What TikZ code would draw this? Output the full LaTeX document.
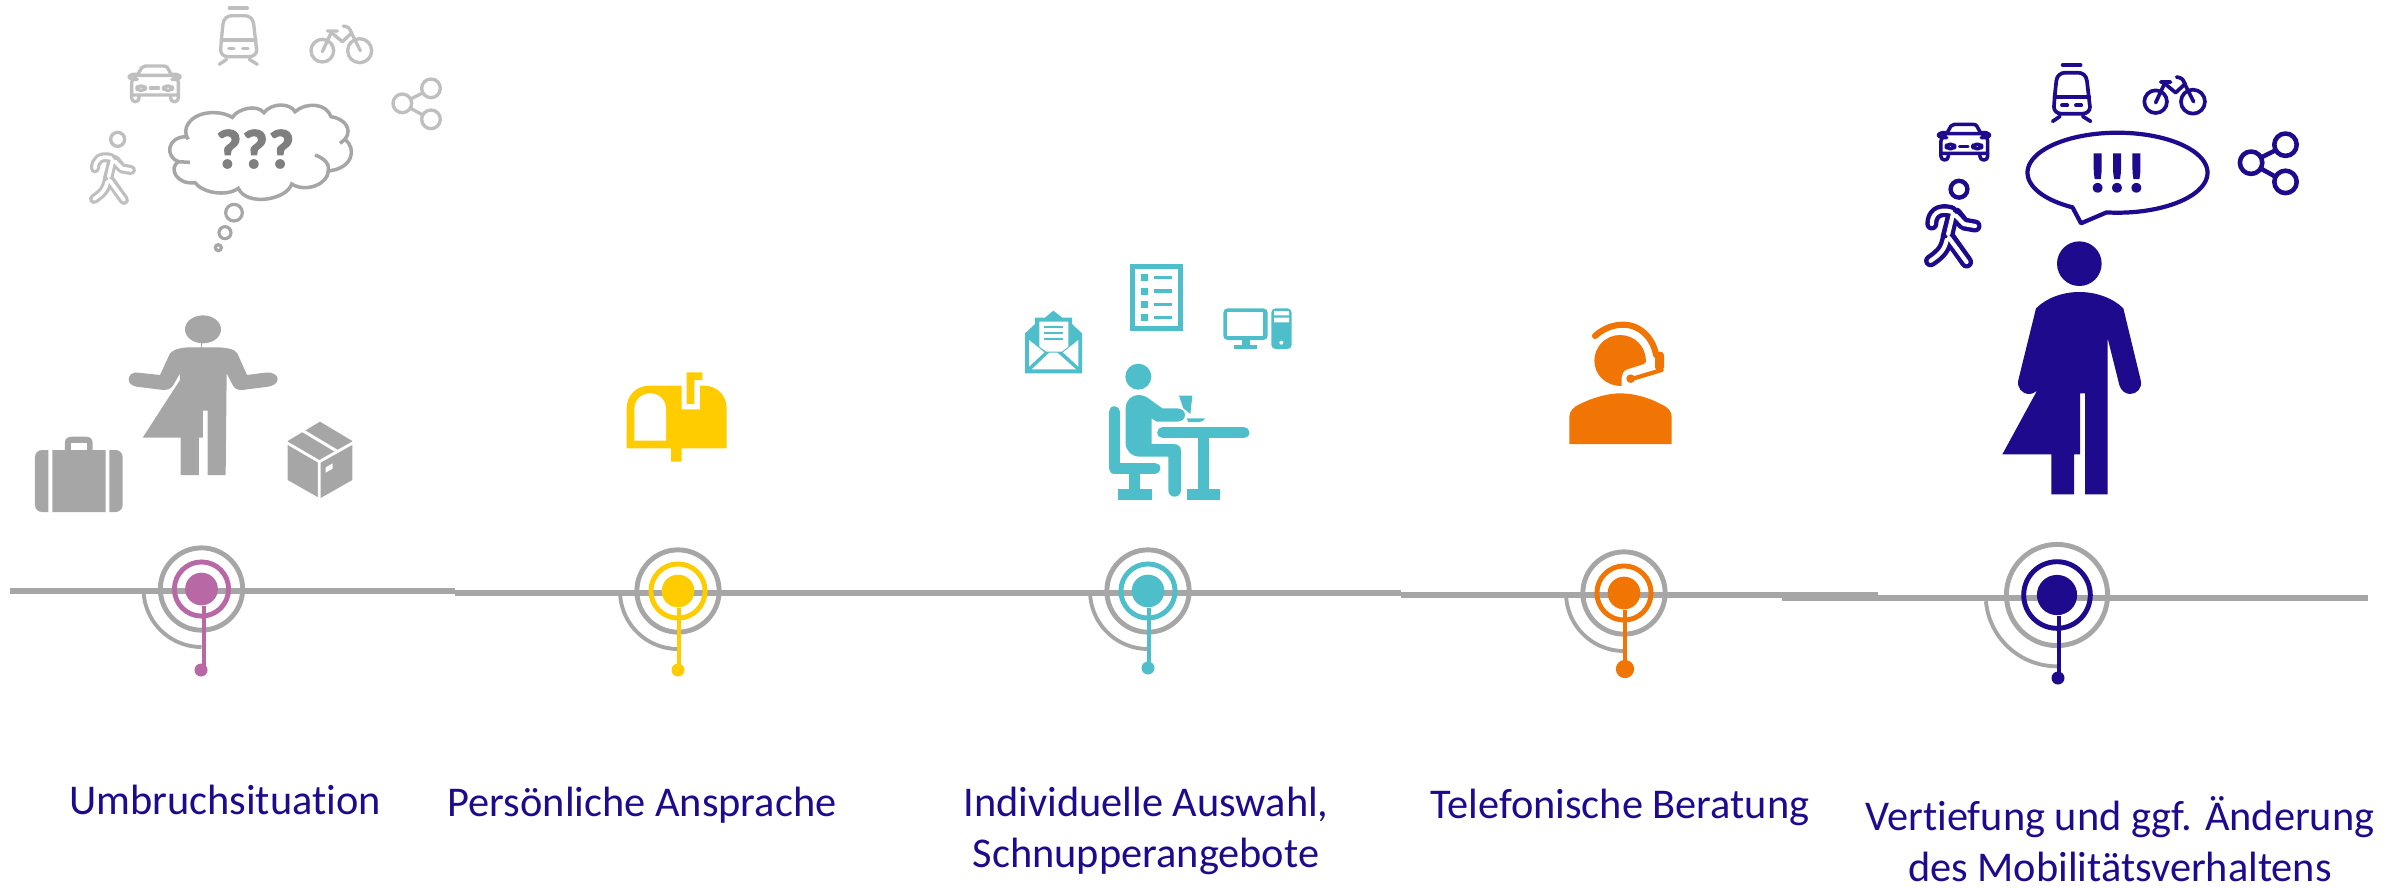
\documentclass[tikz,border=0pt]{standalone}
\usepackage{fontspec}
\setmainfont{Carlito}[Ligatures=NoCommon]
\newfontface\heavy{Carlito Bold}[FakeBold=3]
\usetikzlibrary{calc}
\definecolor{tgray}{HTML}{A6A6A6}
\definecolor{lgray}{HTML}{BFBFBF}
\definecolor{qgray}{HTML}{7F7F7F}
\definecolor{tblue}{HTML}{1E0A8C}
\definecolor{tpink}{HTML}{B968A6}
\definecolor{tyellow}{HTML}{FFCC00}
\definecolor{tteal}{HTML}{4EBFCA}
\definecolor{torange}{HTML}{F07504}
\tikzset{
  ico/.style={line cap=round,line join=round,fill=none},
  label/.style={text=tblue,font=\fontsize{12.05}{14.5}\selectfont,align=center,inner sep=0pt},
  tline/.style={draw=tgray,line width=1.6pt},
}
% line icons, coordinates in zoom units
\newcommand{\icontram}{%
  \draw[ico] (688,24)--(742,24);
  \draw[ico] (664,120) -- (669,72) .. controls (671,55) and (682,47) .. (697,47) -- (733,47) .. controls (748,47) and (759,55) .. (761,72) -- (770,150) .. controls (770,162) and (760,170) .. (748,170) -- (684,170) .. controls (672,170) and (662,162) .. (662,150) -- cycle;
  \draw[ico] (664,120)--(768,120);
  \draw[ico] (686,145)--(702,145) (728,145)--(744,145);
  \draw[ico] (680,178)--(658,193) (748,178)--(772,193);
}
\newcommand{\iconcar}{%
  \draw[ico] (412,226) -- (425,203) .. controls (428,199) and (432,198) .. (436,198) -- (490,198) .. controls (497,198) and (500,199) .. (503,204) -- (515,226);
  \draw[ico] (412,226) -- (515,226) .. controls (528,230) and (535,238) .. (535,248) -- (535,285) -- (395,285) -- (395,248) .. controls (395,238) and (402,230) .. (412,226);
  \draw[ico,rounded corners=1pt] (412,238) -- (388,238) -- (388,223) -- (410,223) (516,223) -- (540,223) -- (540,238) -- (516,238);
  \draw[ico,rounded corners=1pt] (395,285) -- (395,305) -- (417,305) -- (417,287) (512,287) -- (512,305) -- (535,305) -- (535,285);
  \draw[ico,rounded corners=1pt] (411,258) rectangle (436,271) (491,258) rectangle (517,271);
  \draw[ico] (451,264)--(476,264);
}
\newcommand{\iconbike}{%
  \draw[ico] (967,152) circle [radius=34] (1079,152) circle [radius=36];
  \draw[ico] (967,155) -- (995,95) (982,93) -- (1012,93);
  \draw[ico] (997,100) -- (1027,125) -- (1056,98);
  \draw[ico] (1030,78) .. controls (1045,80) and (1050,85) .. (1054,98) -- (1081,152);
}
\newcommand{\iconshare}{%
  \draw[ico] (1293,265) circle [radius=28] (1207,310) circle [radius=28] (1293,358) circle [radius=28];
  \draw[ico] (1232,297)--(1268,279) (1232,325)--(1268,345);
}
\newcommand{\iconwalk}[4]{% colour, outer width, inner width, head stroke
  \draw[#1,line width=#2,line cap=round,line join=round]
    (333,474) .. controls (300,465) and (285,482) .. (285,505)
    (345,480) -- (365,505) -- (393,510)
    (338,480) -- (324,535)
    (324,535) .. controls (320,565) and (310,578) .. (282,597)
    (326,535) -- (372,600);
  \draw[white,line width=#3,line cap=round,line join=round]
    (333,474) .. controls (300,465) and (285,482) .. (285,505)
    (345,484) -- (365,505) -- (393,510)
    (338,480) -- (326,530)
    (322,545) .. controls (318,565) and (310,578) .. (282,597)
    (328,540) -- (372,600);
  \draw[#1,line width=#4] (353,418) circle [radius=21];
}
\begin{document}
\begin{tikzpicture}[x=0.01cm,y=-0.01cm]
\useasboundingbox (0,0) rectangle (2405,887);
% timeline
\coordinate (t0) at (10,591); \coordinate (t1) at (455,591);
\coordinate (t2) at (455,593); \coordinate (t3) at (931,593);
\coordinate (t4) at (931,593); \coordinate (t5) at (1401,593);
\coordinate (t6) at (1401,595); \coordinate (t7) at (1878,595);
\coordinate (t8) at (1782,598); \coordinate (t9) at (2368,598);
\draw[tline] (t0)--(t1); \draw[tline] (t2)--(t3); \draw[tline] (t4)--(t5);
\draw[tline] (t6)--(t7); \draw[tline] (t8)--(t9);
% milestones: id, cx, cy, colour, scale, lead x, end x, end y, end size
\newcommand{\milestone}[9]{%
  \draw[tgray,line width=1.1pt] plot[domain=90:175,samples=30] ({#2+58*#5*cos(\x)},{#3+58*#5*sin(\x)});
  \node[circle,draw=tgray,line width=1.4pt,minimum size=23.4pt*#5,inner sep=0pt] (o#1) at (#2,#3) {};
  \node[circle,draw=#4,line width=1.4pt,minimum size=15.4pt*#5,inner sep=0pt] (r#1) at (#2,#3) {};
  \node[circle,fill=#4,minimum size=9.3pt*#5,inner sep=0pt] (d#1) at (#2,#3) {};
  \node[circle,fill=#4,minimum size=#9,inner sep=0pt] (e#1) at (#7,#8) {};
  \coordinate (l#1) at (#6,#8);
  \draw[#4,line width=1.2pt] (l#1|-d#1.south) -- (l#1);
}
\milestone{1}{201.5}{589}{tpink}{1}{204}{201}{670}{3.7pt}
\milestone{2}{678}{591}{tyellow}{1}{679}{678}{670}{3.7pt}
\milestone{3}{1148}{591}{tteal}{1}{1149}{1148}{668}{3.7pt}
\milestone{4}{1624}{593}{torange}{1}{1625}{1625}{669}{5.2pt}
\milestone{5}{2057}{595}{tblue}{1.23}{2059}{2058}{678}{3.7pt}
% grey transport icons
\begin{scope}[scale=1/3,draw=lgray,line width=0.95pt]
  \icontram \iconcar \iconbike \iconshare
  \iconwalk{lgray}{2.85pt}{1.05pt}{0.95pt}
  % thought cloud
  \draw[tgray,line width=1pt,line join=miter,fill=white]
    (560,410) .. controls (545,370) and (590,335) .. (645,338)
    .. controls (665,338) and (685,345) .. (697,352)
    .. controls (715,325) and (770,312) .. (792,338)
    .. controls (815,308) and (870,308) .. (885,335)
    .. controls (920,305) and (980,310) .. (993,350)
    .. controls (1030,355) and (1060,385) .. (1035,418)
    .. controls (1070,445) and (1060,505) .. (985,513)
    .. controls (985,550) and (920,580) .. (875,552)
    .. controls (860,600) and (740,620) .. (715,565)
    .. controls (680,590) and (610,580) .. (585,548)
    .. controls (530,555) and (505,505) .. (535,485)
    .. controls (495,470) and (500,410) .. (560,410) -- cycle;
  \draw[tgray,line width=1pt] (945,465) .. controls (975,475) and (990,495) .. (985,513)
     (535,485)--(570,487) (1035,418)--(1020,430) (560,410)--(565,418);
  \draw[tgray,line width=0.9pt] (702,638) circle [radius=25] (675,698) circle [radius=18] (655,743) circle [radius=9];
\end{scope}
\node[text=qgray,font=\fontsize{15.5}{18}\heavy,inner sep=0pt] (qq) at (255,149) {?\kern0.02em?\kern0.02em?};
% grey person
\begin{scope}[shift={(0,290)},scale=1/3,fill=tgray]
  \fill (609,118) ellipse [x radius=54,y radius=42];
  \draw[tgray,line width=0.3pt] (605,158)--(605,175);
  \fill (510,190) .. controls (520,178) and (545,172) .. (570,172) -- (650,172) .. controls (680,172) and (705,178) .. (712,190) -- (741,255) -- (795,248) .. controls (820,245) and (833,255) .. (833,268) .. controls (833,280) and (820,287) .. (805,290) -- (725,300) .. controls (710,300) and (703,295) .. (698,285) -- (680,250) -- (677,555) -- (623,555) -- (623,362) -- (609,362) -- (609,443) -- (597,443) -- (597,555) -- (542,555) -- (542,443) -- (428,443) -- (540,270) -- (540,250) -- (520,285) .. controls (515,295) and (505,300) .. (490,300) -- (410,290) .. controls (395,287) and (386,280) .. (386,268) .. controls (386,255) and (398,245) .. (415,248) -- (480,255) -- cycle;
  % suitcase
  \fill[rounded corners=2pt] (105,480) rectangle (368,666);
  \fill (195,485) -- (195,455) .. controls (195,445) and (205,440) .. (215,440) -- (258,440) .. controls (270,440) and (278,447) .. (278,458) -- (278,485) -- cycle;
  \fill[white] (214,460) rectangle (260,480);
  \fill[white] (145,478) rectangle (157,668) (317,478) rectangle (328,668);
  % box
  \fill (960,395) -- (1057,453) -- (1057,570) -- (960,625) -- (863,570) -- (863,453) -- cycle;
  \draw[white,line width=0.8pt] (855,455) -- (958,515) -- (1065,455) (958,515) -- (958,630);
  \draw[white,line width=0.85pt] (905,420) -- (1010,483);
  \fill[white] (977,532) -- (998,520) -- (998,536) -- (977,548) -- cycle;
\end{scope}
% mailbox
\begin{scope}[shift={(580,340)},scale=1/3,fill=tyellow]
  \fill (140,325) -- (140,205) .. controls (140,165) and (170,137) .. (208,137) -- (305,137) -- (305,208) -- (360,208) -- (360,137) -- (372,137) .. controls (410,137) and (440,165) .. (440,205) -- (440,325) -- (305,325) -- (305,365) -- (273,365) -- (273,325) -- cycle;
  \fill[white] (163,302) -- (163,208) .. controls (163,180) and (185,160) .. (210,160) .. controls (238,160) and (258,180) .. (258,208) -- (258,302) -- cycle;
  \fill (320,97) -- (367,97) -- (367,120) -- (343,120) -- (343,192) -- (320,192) -- cycle;
\end{scope}
% desk group
\begin{scope}[shift={(1000,240)},scale=1/3,fill=tteal]
  \fill (415,410) circle [radius=39];
  \fill (377,505) .. controls (377,480) and (395,465) .. (415,465) .. controls (428,465) and (438,470) .. (445,475) -- (487,505) -- (530,505) .. controls (545,505) and (555,513) .. (555,525) .. controls (555,537) and (545,545) .. (530,545) -- (470,545) -- (455,535) -- (455,612) -- (520,612) .. controls (535,612) and (543,620) .. (543,632) -- (543,750) .. controls (543,762) and (535,770) .. (524,770) .. controls (513,770) and (505,762) .. (505,750) -- (505,650) -- (420,650) .. controls (395,650) and (377,632) .. (377,610) -- cycle;
  \draw[tteal,line width=3.1pt,line cap=round,line join=round] (343,515) -- (343,685) -- (465,685);
  \fill (388,695) rectangle (421,750);
  \fill (354,747) rectangle (455,780);
  \draw[tteal,line width=3.1pt,line cap=round] (488,578) -- (732,578);
  \fill (593,590) rectangle (627,750);
  \fill (560,747) rectangle (660,780);
  \fill (537,467) -- (577,467) -- (571,522) -- (550,505) -- cycle;
  \fill (560,535) -- (615,535) .. controls (612,542) and (605,546) .. (598,546) -- (565,546) -- cycle;
  % envelope
  \fill (75,400) -- (75,280) -- (105,252) -- (105,233) -- (135,233) -- (160,212) -- (187,233) -- (216,233) -- (216,252) -- (246,280) -- (246,400) -- cycle;
  \fill[white] (118,245) -- (205,245) -- (205,320) -- (185,335) -- (140,335) -- (118,320) -- cycle;
  \draw[tteal,line width=0.65pt] (132,262)--(188,262) (132,280)--(188,280) (132,297)--(188,297);
  \fill[white] (87,300) -- (133,337) -- (87,380) -- cycle (235,300) -- (189,337) -- (235,380) -- cycle;
  \fill[white] (95,388) -- (148,338) -- (172,338) -- (228,388) -- cycle;
  % list
  \fill (390,72) rectangle (549,274);
  \fill[white] (404,88) rectangle (534,258);
  \foreach \r in {0,40,80,120} {
    \fill (422,{103+\r}) rectangle (443,{124+\r});
    \fill (463,{108+\r}) rectangle (515,{118+\r});
  }
  % computer
  \fill[rounded corners=1.2pt] (670,205) rectangle (803,300);
  \fill[white] (682,216) rectangle (790,288);
  \fill (725,298) rectangle (750,318);
  \fill (702,316) rectangle (770,327);
  \fill[rounded corners=1.2pt] (814,205) rectangle (875,327);
  \fill[white] (822,213) rectangle (867,226) (822,233) rectangle (867,247);
  \fill[white] (844,308) circle [radius=6];
\end{scope}
% headset person
\begin{scope}[shift={(1540,300)},scale=1/3,fill=torange]
  \fill (88,432) -- (88,350) .. controls (88,335) and (100,320) .. (120,312) .. controls (160,292) and (205,280) .. (240,280) .. controls (280,280) and (325,292) .. (362,312) .. controls (385,322) and (395,335) .. (395,350) -- (395,432) -- cycle;
  \fill (245,258) .. controls (195,258) and (163,222) .. (163,182) .. controls (163,140) and (197,105) .. (240,105) .. controls (285,105) and (318,140) .. (318,185) -- (312,192) -- (262,208) .. controls (250,212) and (245,222) .. (245,232) -- cycle;
  \draw[torange,line width=1.75pt,line cap=round] (165,108) .. controls (190,85) and (220,74) .. (250,74) .. controls (300,74) and (340,115) .. (348,165);
  \fill[rounded corners=1pt] (345,155) -- (372,155) -- (372,212) -- (345,212) -- cycle;
  \draw[torange,line width=1.2pt,line cap=round] (365,210) -- (272,238);
  \fill (272,236) circle [radius=13];
\end{scope}
% blue icons
\begin{scope}[shift={(1833.3,57)},scale=1/3,draw=tblue,line width=1.05pt] \icontram \end{scope}
\begin{scope}[shift={(1809.3,58.3)},scale=1/3,draw=tblue,line width=1pt] \iconcar \end{scope}
\begin{scope}[shift={(1833.3,51)},scale=1/3,draw=tblue,line width=1.05pt] \iconbike \end{scope}
\begin{scope}[shift={(1768.3,38.7)},scale=0.4,draw=tblue,line width=1.3pt] \iconshare \end{scope}
\begin{scope}[shift={(1817.8,22)},scale=0.4] \iconwalk{tblue}{3.7pt}{1.2pt}{1.25pt} \end{scope}
% speech bubble
\draw[tblue,line width=1.2pt,line join=round] plot[domain=97:-240,samples=120] ({2117.5+90*cos(\x)},{172.7+40*sin(\x)}) -- (2081,223.3) -- cycle;
\node[text=tblue,font=\fontsize{15.5}{18}\heavy,inner sep=0pt] (ex) at (2117,173) {!\kern0.03em!\kern0.03em!};
% blue person
\begin{scope}[shift={(1950,230)},scale=1/3,fill=tblue]
  \fill (388,101) circle [radius=67];
  \fill (388,186) .. controls (440,186) and (490,205) .. (520,235) -- (572,450) .. controls (578,475) and (560,492) .. (540,492) .. controls (525,492) and (512,480) .. (508,465) -- (473,325) -- (473,793) -- (405,793) -- (405,490) -- (390,490) -- (390,673) -- (372,673) -- (372,793) -- (304,793) -- (304,673) -- (157,673) -- (272,462) .. controls (265,482) and (252,492) .. (238,492) .. controls (215,492) and (200,472) .. (205,450) -- (258,235) .. controls (288,205) and (336,186) .. (388,186) -- cycle;
  \fill (272,462) -- (304,325) -- (304,400) -- cycle;
\end{scope}
% labels
\node[label,anchor=base] (a) at (225,814) {Umbruchsituation};
\node[label,anchor=base] (b) at (642,816) {Persönliche Ansprache};
\node[label,anchor=base] (c) at (1146,867) {Individuelle Auswahl,\\Schnupperangebote};
\node[label,anchor=base] (d) at (1620,818) {Telefonische Beratung};
\node[label,anchor=base] (e) at (2120,881) {Vertiefung und ggf. Änderung\\des Mobilitätsverhaltens};
\end{tikzpicture}
\end{document}
